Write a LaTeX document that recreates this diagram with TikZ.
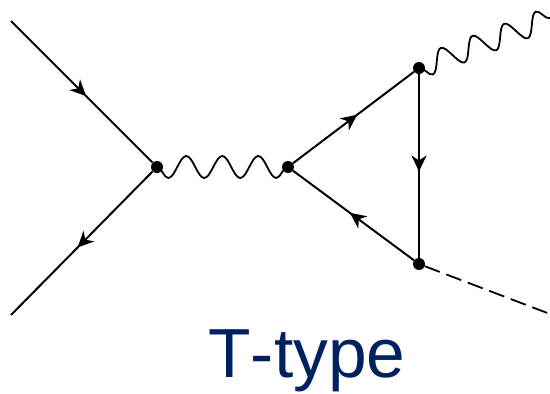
\documentclass[tikz,border=0pt]{standalone}
\usepackage{fontspec}
\setmainfont[Kerning=Off]{Liberation Sans}
\usetikzlibrary{arrows.meta,decorations.markings,decorations.pathmorphing}
\definecolor{titleblue}{RGB}{0,32,96}
\begin{document}
\begin{tikzpicture}[x=1pt,y=-1pt,
  vtx/.style={circle,fill=black,inner sep=0pt,minimum size=12pt},
  fermion/.style={line width=2pt,postaction={decorate},decoration={markings,mark=at position 0.53 with {\arrow{Stealth[length=16pt,width=15pt,inset=5pt]}}}},
  boson/.style={line width=1.8pt,decorate,decoration={snake,mirror,amplitude=11pt,segment length=#1}},
  scalar/.style={line width=1.8pt,dash pattern=on 16pt off 7pt},
  lbl/.style={font=\fontsize{69.5}{69.5}\selectfont,text=titleblue,inner sep=0pt,anchor=base},
]
\useasboundingbox (0,0) rectangle (550,394);
% external points
\coordinate (in1) at (11,21);
\coordinate (in2) at (11,315);
\coordinate (out1) at (550,18);
\coordinate (out2) at (550,314);
% vertices
\node[vtx] (v1) at (157,167) {};
\node[vtx] (v2) at (288,167) {};
\node[vtx] (v3) at (419,68) {};
\node[vtx] (v4) at (419,264) {};
% fermion lines
\draw[fermion] (in1) -- (v1);
\draw[fermion] (v1) -- (in2);
\draw[fermion] (v2) -- (v3);
\draw[fermion,line width=2.8pt] (v3) -- (v4);
\draw[fermion] (v4) -- (v2);
% bosons
\draw[boson=36pt] (v1.center) -- (v2.center);
\draw[boson=33.9pt] (v3.center) -- (out1);
\draw[scalar] (v4) -- (out2);
\node[lbl] (title) at (307,377) {T-type};
\end{tikzpicture}
\end{document}
